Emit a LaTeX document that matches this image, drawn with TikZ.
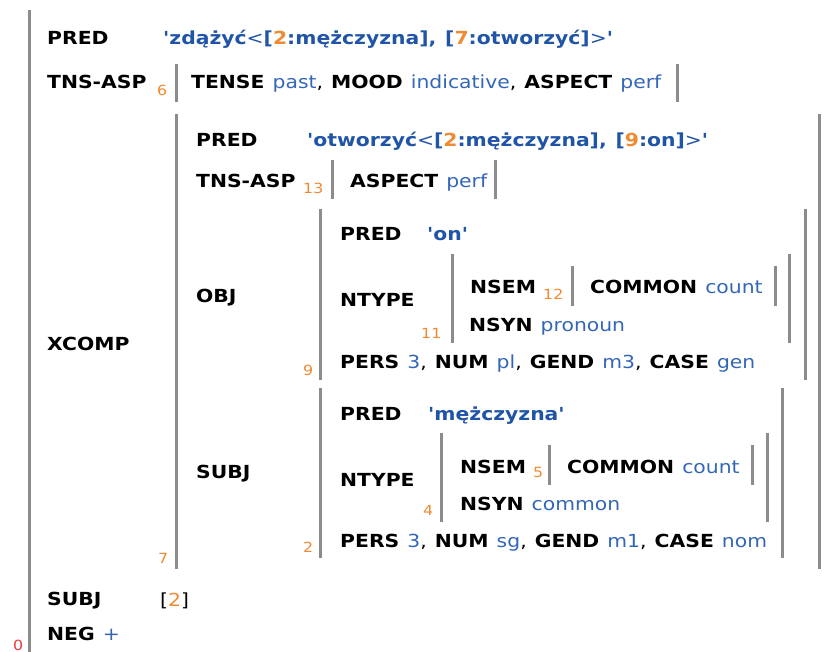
\documentclass[tikz,border=0pt]{standalone}
\usepackage{fontspec}
\setmainfont{DejaVu Sans}[Ligatures=TeXOff, FakeStretch=1.13, WordSpace=1.25]
\usetikzlibrary{positioning}
\definecolor{Bar}{HTML}{8C8C8C}
\definecolor{Val}{HTML}{3366B8}
\definecolor{PredVal}{HTML}{1F54A6}
\definecolor{Idx}{HTML}{F08A30}
\definecolor{Root}{HTML}{E83A3A}
\newcommand{\fattr}[1]{\textbf{#1}}
\newcommand{\fval}[1]{\textcolor{Val}{#1}}
\newcommand{\fnum}[1]{\textcolor{Idx}{#1}}
\newcommand{\fpred}[1]{\textcolor{PredVal}{#1}}
\tikzset{
    fsattr/.style={anchor=base west, inner sep=0pt, font=\fontsize{18}{20}\selectfont\bfseries, text=black},
    fsline/.style={anchor=base west, inner sep=0pt, font=\fontsize{18}{20}\selectfont, text=black},
    fspred/.style={anchor=base west, inner sep=0pt, font=\fontsize{18}{20}\selectfont\bfseries, text=PredVal},
    fsindex/.style={anchor=base west, inner sep=0pt, font=\fontsize{14}{15}\selectfont, text=Idx},
    fsbar/.style={draw=Bar, line width=3pt},
}

\begin{document}
\begin{tikzpicture}[x=1pt, y=-1pt]
    \useasboundingbox (0,0) rectangle (830,652);

    % outer f-structure
    \draw[fsbar] (29,10) -- (29,652);
    \node[fsindex, text=Root] (i0) at (13,650) {0};
    \node[fsattr] (pred0) at (47,45) {PRED};
    \node[fspred] (pred0v) at (163,45) {'zdążyć{\mdseries<}[\fnum{2}:mężczyzna], [\fnum{7}:otworzyć]{\mdseries>}'};
    \node[fsattr] (tns0) at (47,89) {TNS-ASP};
    \node[fsindex] (i6) at (157,96) {6};
    \draw[fsbar] (176,64) -- (176,102);
    \node[fsline] (tns0v) at (191,89) {\fattr{TENSE} \fval{past}, \fattr{MOOD} \fval{indicative}, \fattr{ASPECT} \fval{perf}};
    \draw[fsbar] (677,64) -- (677,102);
    \node[fsattr] (xcomp) at (47,350) {XCOMP};
    \node[fsattr] (subj0) at (47,605) {SUBJ};
    \node[fsline] (subj0v) at (160,606) {[\fnum{2}]};
    \node[fsline] (neg) at (47,640) {\fattr{NEG} \fval{+}};

    % XCOMP
    \draw[fsbar] (176,114) -- (176,569);
    \draw[fsbar] (819,114) -- (819,569);
    \node[fsindex] (i7) at (158,563) {7};
    \node[fsattr] (pred7) at (196,147) {PRED};
    \node[fspred] (pred7v) at (307,147) {'otworzyć{\mdseries<}[\fnum{2}:mężczyzna], [\fnum{9}:on]{\mdseries>}'};
    \node[fsattr] (tns7) at (196,188) {TNS-ASP};
    \node[fsindex] (i13) at (303,194) {13};
    \draw[fsbar] (332,160) -- (332,199);
    \node[fsline] (tns7v) at (350,188) {\fattr{ASPECT} \fval{perf}};
    \draw[fsbar] (495,160) -- (495,199);
    \node[fsattr] (obj) at (196,303) {OBJ};
    \node[fsattr] (subj7) at (196,478) {SUBJ};

    % OBJ
    \draw[fsbar] (320,209) -- (320,380);
    \draw[fsbar] (805,209) -- (805,380);
    \node[fsindex] (i9) at (303,375) {9};
    \node[fsattr] (pred9) at (340,241) {PRED};
    \node[fspred] (pred9v) at (427,241) {'on'};
    \node[fsattr] (ntype9) at (340,307) {NTYPE};
    \draw[fsbar] (452,254) -- (452,343);
    \draw[fsbar] (789,254) -- (789,343);
    \node[fsindex] (i11) at (421,338) {11};
    \node[fsattr] (nsem11) at (470,294) {NSEM};
    \node[fsindex] (i12) at (543,300) {12};
    \draw[fsbar] (572,266) -- (572,306);
    \node[fsline] (nsem11v) at (590,294) {\fattr{COMMON} \fval{count}};
    \draw[fsbar] (775,266) -- (775,306);
    \node[fsline] (nsyn11) at (469,331) {\fattr{NSYN} \fval{pronoun}};
    \node[fsline] (agr9) at (340,368) {\fattr{PERS} \fval{3}, \fattr{NUM} \fval{pl}, \fattr{GEND} \fval{m3}, \fattr{CASE} \fval{gen}};

    % SUBJ
    \draw[fsbar] (320,388) -- (320,558);
    \draw[fsbar] (782,388) -- (782,558);
    \node[fsindex] (i2) at (303,552) {2};
    \node[fsattr] (pred2) at (340,420) {PRED};
    \node[fspred] (pred2v) at (428,420) {'mężczyzna'};
    \node[fsattr] (ntype2) at (340,486) {NTYPE};
    \draw[fsbar] (441,433) -- (441,522);
    \draw[fsbar] (767,433) -- (767,522);
    \node[fsindex] (i4) at (423,515) {4};
    \node[fsattr] (nsem4) at (460,473) {NSEM};
    \node[fsindex] (i5) at (533,477) {5};
    \draw[fsbar] (549,445) -- (549,485);
    \node[fsline] (nsem4v) at (567,473) {\fattr{COMMON} \fval{count}};
    \draw[fsbar] (752,445) -- (752,485);
    \node[fsline] (nsyn4) at (460,510) {\fattr{NSYN} \fval{common}};
    \node[fsline] (agr2) at (340,547) {\fattr{PERS} \fval{3}, \fattr{NUM} \fval{sg}, \fattr{GEND} \fval{m1}, \fattr{CASE} \fval{nom}};
\end{tikzpicture}
\end{document}
